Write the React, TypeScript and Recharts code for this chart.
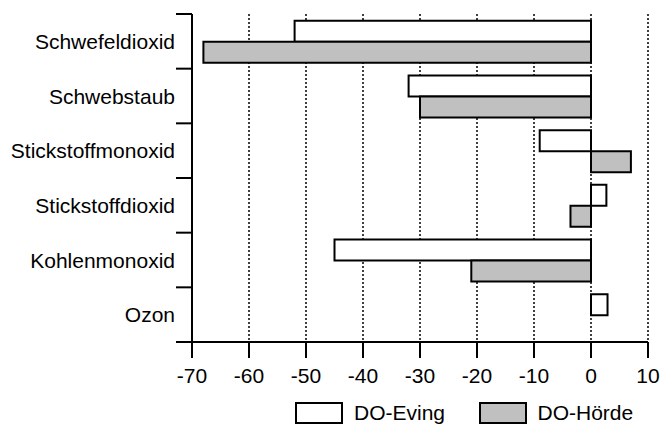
import React from 'react';
import { Bar, BarChart, CartesianGrid, Legend, XAxis, YAxis } from 'recharts';

const categories = ['Schwefeldioxid', 'Schwebstaub', 'Stickstoffmonoxid', 'Stickstoffdioxid', 'Kohlenmonoxid', 'Ozon'];
const evingValues = [-52, -32, -9, 2.7, -45, 2.9];
const hoerdeValues = [-68, -30, 7, -3.6, -21, 0];
const xTicks = [-70, -60, -50, -40, -30, -20, -10, 0, 10];

const data = categories.map((name, i) => ({ name, eving: evingValues[i], hoerde: hoerdeValues[i] }));

const FONT = '"Liberation Sans", Arial, sans-serif';
const WIDTH = 662;
const HEIGHT = 426;
const MARGIN = { top: 14, right: 14, left: 0, bottom: 0 };
const X_AXIS_HEIGHT = 58;
const LEGEND_HEIGHT = 26;
const PLOT_HEIGHT = HEIGHT - MARGIN.top - X_AXIS_HEIGHT - LEGEND_HEIGHT;
const BAND = PLOT_HEIGHT / categories.length;

function CategoryTick(props: any) {
    const { x, y, payload, index } = props;
    const axisX = x + 17;
    const last = index === categories.length - 1;
    return (
        <g>
            <line x1={axisX - 16} x2={axisX} y1={y - BAND / 2} y2={y - BAND / 2} stroke="#000" strokeWidth={2} />
            {last && <line x1={axisX - 16} x2={axisX} y1={y + BAND / 2} y2={y + BAND / 2} stroke="#000" strokeWidth={2} />}
            <text x={axisX - 17} y={y} dy="0.36em" textAnchor="end" fontSize={21} fontFamily={FONT} fill="#000">
                {payload.value}
            </text>
        </g>
    );
}

function LegendContent() {
    const items = [
        { label: 'DO-Eving', fill: '#FFFFFF' },
        { label: 'DO-Hörde', fill: '#C0C0C0' },
    ];
    return (
        <div style={{ display: 'flex', paddingLeft: 295, height: LEGEND_HEIGHT, alignItems: 'center', fontFamily: FONT, fontSize: 21 }}>
            {items.map((item) => (
                <div key={item.label} style={{ display: 'flex', alignItems: 'center', width: 200 }}>
                    <div style={{ width: 44, height: 18, background: item.fill, border: '2px solid #000', marginRight: 11 }} />
                    <span style={{ color: '#000' }}>{item.label}</span>
                </div>
            ))}
        </div>
    );
}

export default function App() {
    return (
        <div style={{ position: 'absolute', left: 0, top: 0, width: WIDTH, height: HEIGHT, background: '#fff' }}>
            <BarChart
                width={WIDTH}
                height={HEIGHT}
                data={data}
                layout="vertical"
                margin={MARGIN}
                barCategoryGap="12.5%"
                barGap={0}
            >
                <CartesianGrid horizontal={false} stroke="#000" strokeWidth={1.5} strokeDasharray="2 2" />
                <XAxis
                    type="number"
                    domain={[-70, 10]}
                    ticks={xTicks}
                    height={X_AXIS_HEIGHT}
                    axisLine={{ stroke: '#000', strokeWidth: 2 }}
                    tickLine={{ stroke: '#000', strokeWidth: 2 }}
                    tickSize={16}
                    tickMargin={10}
                    tick={{ fontSize: 21, fontFamily: FONT, fill: '#000' }}
                />
                <YAxis
                    type="category"
                    dataKey="name"
                    width={192}
                    axisLine={{ stroke: '#000', strokeWidth: 2 }}
                    tickLine={false}
                    tickSize={0}
                    tickMargin={17}
                    tick={<CategoryTick />}
                />
                <Legend verticalAlign="bottom" height={LEGEND_HEIGHT} content={<LegendContent />} wrapperStyle={{ left: 0, width: WIDTH }} />
                <Bar dataKey="eving" name="DO-Eving" fill="#FFFFFF" stroke="#000" strokeWidth={2} isAnimationActive={false} />
                <Bar dataKey="hoerde" name="DO-Hörde" fill="#C0C0C0" stroke="#000" strokeWidth={2} isAnimationActive={false} />
            </BarChart>
        </div>
    );
}
